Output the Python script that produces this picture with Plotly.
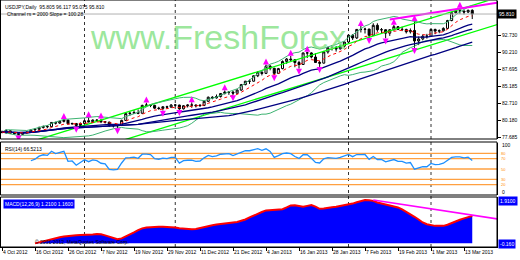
import numpy as np
import pandas as pd
import plotly.graph_objects as go

# ---------------- data ----------------
dates = pd.bdate_range("2012-10-04", "2013-03-15")
dates = dates[~dates.isin(pd.to_datetime(["2012-12-25", "2013-01-01"]))]

open_ = [78.45, 78.47, 78.68, 78.30, 78.25, 78.15, 78.40, 78.45, 78.80, 78.90,
         79.15, 79.30, 79.28, 79.90, 79.80, 80.05, 80.25, 79.70, 79.75, 79.45,
         79.75, 80.15, 80.00, 80.25, 80.20, 80.00, 79.95, 79.45, 79.40, 79.45,
         80.20, 81.20, 81.25, 81.35, 81.25, 82.40, 82.45, 82.40, 82.00, 81.95,
         82.20, 82.15, 82.45, 82.45, 81.90, 82.35, 82.45, 82.45, 82.35, 82.40,
         83.00, 83.60, 83.50, 83.70, 84.15, 84.35, 84.35, 84.20, 84.65, 85.45,
         85.95, 85.95, 86.75, 87.25, 87.10, 88.15, 87.85, 87.10, 87.80, 88.85,
         89.20, 89.10, 88.70, 88.40, 90.10, 90.10, 89.50, 88.70, 88.60, 90.25,
         90.85, 90.80, 90.70, 91.10, 91.70, 92.70, 92.30, 93.55, 93.55, 93.60,
         92.70, 94.15, 93.50, 93.50, 93.00, 93.50, 93.95, 93.55, 93.55, 93.20,
         93.40, 91.85, 92.15, 92.55, 92.55, 93.55, 93.30, 93.35, 93.70, 94.85,
         96.00, 96.25, 96.25, 96.10, 96.35]
high = [78.70, 78.90, 78.75, 78.45, 78.35, 78.50, 78.60, 78.90, 79.05, 79.30,
        79.45, 79.50, 79.95, 80.00, 80.15, 80.40, 80.30, 79.85, 79.80, 79.90,
        80.25, 80.65, 80.35, 80.40, 80.45, 80.10, 80.00, 79.55, 79.55, 80.30,
        81.35, 81.45, 81.70, 81.80, 82.50, 82.80, 82.55, 82.50, 82.20, 82.30,
        82.35, 82.60, 82.60, 82.50, 82.45, 82.55, 82.85, 82.55, 82.60, 83.15,
        83.70, 83.75, 84.00, 84.20, 84.60, 84.50, 84.50, 84.75, 85.55, 86.00,
        86.20, 86.80, 87.45, 87.55, 88.40, 88.35, 87.90, 87.90, 89.00, 89.35,
        89.65, 89.20, 88.95, 90.15, 90.25, 90.20, 90.05, 88.95, 90.40, 91.00,
        91.25, 91.10, 91.35, 91.75, 92.80, 92.85, 93.60, 94.05, 93.80, 93.65,
        94.45, 94.45, 93.75, 93.55, 93.60, 94.20, 94.05, 93.95, 93.65, 93.70,
        94.75, 92.50, 92.80, 92.90, 93.60, 93.65, 93.55, 93.85, 94.95, 96.05,
        96.55, 96.70, 96.30, 96.45, 96.50]
low = [78.30, 78.20, 78.20, 78.10, 78.00, 78.05, 78.25, 78.40, 78.70, 78.80,
       79.00, 79.05, 79.20, 79.60, 79.70, 79.90, 79.60, 79.55, 79.30, 79.40,
       79.70, 79.90, 79.95, 80.05, 79.80, 79.75, 79.25, 79.15, 79.05, 79.40,
       80.15, 80.90, 81.15, 81.10, 81.20, 82.20, 82.15, 81.90, 81.75, 81.65,
       81.95, 82.05, 82.25, 81.75, 81.80, 82.10, 82.05, 82.10, 82.20, 82.30,
       82.90, 83.30, 83.40, 83.55, 84.00, 83.95, 83.90, 84.10, 84.55, 85.35,
       85.55, 85.90, 86.55, 86.80, 87.00, 87.55, 86.85, 87.00, 87.70, 88.50,
       88.90, 88.00, 87.80, 88.35, 89.35, 89.30, 88.75, 88.05, 88.55, 90.00,
       90.45, 90.30, 90.60, 90.90, 91.55, 92.00, 92.15, 93.10, 92.95, 92.30,
       92.60, 93.20, 93.00, 92.25, 92.60, 93.40, 93.45, 93.30, 92.95, 92.95,
       90.85, 91.25, 91.95, 92.20, 92.45, 92.85, 93.00, 93.25, 93.60, 94.75,
       95.90, 95.85, 95.75, 95.95, 95.07]
close = [78.47, 78.70, 78.30, 78.25, 78.15, 78.40, 78.45, 78.80, 78.90, 79.15,
         79.30, 79.28, 79.90, 79.80, 80.05, 80.25, 79.70, 79.75, 79.45, 79.75,
         80.15, 80.00, 80.25, 80.20, 80.00, 79.95, 79.45, 79.40, 79.45, 80.20,
         81.20, 81.25, 81.35, 81.25, 82.40, 82.45, 82.40, 82.00, 81.95, 82.20,
         82.15, 82.45, 82.45, 81.90, 82.35, 82.45, 82.45, 82.35, 82.40, 83.00,
         83.60, 83.50, 83.70, 84.15, 84.35, 84.35, 84.20, 84.65, 85.45, 85.95,
         85.95, 86.75, 87.25, 87.10, 88.15, 87.85, 87.10, 87.80, 88.85, 89.20,
         89.10, 88.70, 88.40, 90.10, 90.10, 89.50, 88.70, 88.60, 90.25, 90.85,
         90.80, 90.70, 91.10, 91.70, 92.70, 92.30, 93.55, 93.55, 93.60, 92.70,
         94.15, 93.50, 93.50, 93.00, 93.50, 93.95, 93.55, 93.55, 93.20, 93.40,
         91.85, 92.15, 92.55, 92.55, 93.55, 93.30, 93.35, 93.70, 94.85, 96.00,
         96.25, 96.25, 96.10, 96.35, 95.81]

# oscillator (lower window), values from bar 8 onwards
osc_start = 8
osc_values = [0.00, 0.05, 0.10, 0.14, 0.19, 0.23, 0.27, 0.30, 0.33, 0.35,
              0.36, 0.37, 0.37, 0.38, 0.39, 0.41, 0.40, 0.35, 0.29, 0.23,
              0.18, 0.22, 0.30, 0.38, 0.48, 0.58, 0.66, 0.70, 0.72, 0.73,
              0.73, 0.73, 0.73, 0.72, 0.70, 0.67, 0.65, 0.63, 0.62, 0.63,
              0.68, 0.73, 0.77, 0.80, 0.83, 0.86, 0.88, 0.90, 0.92, 0.94,
              0.98, 1.05, 1.14, 1.23, 1.32, 1.38, 1.45, 1.47, 1.48, 1.49,
              1.50, 1.58, 1.67, 1.68, 1.64, 1.61, 1.65, 1.69, 1.62, 1.52,
              1.53, 1.57, 1.59, 1.61, 1.64, 1.67, 1.69, 1.75, 1.81, 1.86,
              1.91, 1.90, 1.87, 1.80, 1.76, 1.72, 1.69, 1.65, 1.58, 1.50,
              1.40, 1.28, 1.17, 1.05, 0.92, 0.84, 0.79, 0.77, 0.77, 0.77,
              0.82, 0.90, 0.98, 1.04, 1.10, 1.16, 1.21]

# straight channel lines (bar index, price)
channel_bars = [0, 121]
channel_upper = [75.75, 98.38]
channel_lower = [71.80, 94.43]
trend_bars = [94, 121]
trend_prices = [95.00, 97.55]
osc_trend_bars = [90, 121]
osc_trend_vals = [1.91, 1.05]

price_ticks = [92.730, 90.210, 87.695, 85.185, 82.710, 80.180, 77.685]
rsi_levels = [80, 70, 50, 30, 20]
bid = 95.810

# ---------------- derived ----------------
N = len(close)
x = np.arange(N)
c = pd.Series(close)


def ema(s, n):
    return s.ewm(span=n, adjust=False).mean()


ma_fast = ema(c, 21)
ma_mid = c.rolling(34, min_periods=1).mean()
ma_slow = c.rolling(55, min_periods=1).mean()
bb_mid = c.rolling(20, min_periods=1).mean()
bb_sd = c.rolling(20, min_periods=1).std(ddof=0).fillna(0)
bb_up = bb_mid + 2 * bb_sd
bb_dn = bb_mid - 2 * bb_sd
red_ma = ema(c, 8)

d = c.diff()
au = d.clip(lower=0).ewm(alpha=1 / 14, adjust=True, min_periods=7).mean()
ad = (-d).clip(lower=0).ewm(alpha=1 / 14, adjust=True, min_periods=7).mean()
rsi = 100 - 100 / (1 + au / ad)

H = np.array(high)
L = np.array(low)
up_fr, dn_fr = [], []
for i in range(2, N - 2):
    if H[i] > max(H[i - 2], H[i - 1], H[i + 1], H[i + 2]):
        up_fr.append(i)
    if L[i] < min(L[i - 2], L[i - 1], L[i + 1], L[i + 2]):
        dn_fr.append(i)

tick_idx = list(range(0, N, 8))
tick_txt = [f"{dates[i].day} {dates[i].strftime('%b %Y')}" for i in tick_idx]
month_starts = [i for i in range(1, N) if dates[i].month != dates[i - 1].month and dates[i].month != 1]

# ---------------- layout geometry ----------------
W, Hh = 520, 260
XR = [-0.485, 120.0]
plot_w = 497 / W


def py(p):  # pixel row -> paper y
    return 1 - p / Hh


main_dom = [py(139), py(1)]
rsi_dom = [py(195), py(143)]
osc_dom = [py(247), py(197)]

fig = go.Figure()

fig.add_annotation(text="www.FreshForex", x=218 / W, y=py(37), xref="paper", yref="paper",
                   showarrow=False, font=dict(family="Liberation Sans, Arial", size=34,
                                              color="rgba(130,225,130,0.8)"),
                   xanchor="center", yanchor="middle")

for vals in (channel_upper, channel_lower):
    fig.add_trace(go.Scatter(x=channel_bars, y=vals, mode="lines",
                             line=dict(color="#00FF00", width=1.3), hoverinfo="skip"))
for s in (bb_up, bb_dn):
    fig.add_trace(go.Scatter(x=x, y=s, mode="lines", line=dict(color="#3CB371", width=1),
                             hoverinfo="skip"))
for s in (ma_fast, ma_mid, ma_slow):
    fig.add_trace(go.Scatter(x=x, y=s, mode="lines", line=dict(color="#000080", width=1.3),
                             hoverinfo="skip"))
fig.add_trace(go.Scatter(x=x, y=red_ma, mode="lines",
                         line=dict(color="#FF0000", width=1, dash="dot"), hoverinfo="skip"))
fig.add_trace(go.Scatter(x=trend_bars, y=trend_prices, mode="lines",
                         line=dict(color="#FF00FF", width=2), hoverinfo="skip"))
fig.add_trace(go.Scatter(x=[XR[0], XR[1]], y=[bid, bid], mode="lines",
                         line=dict(color="#B0B0B0", width=1), hoverinfo="skip"))
fig.add_trace(go.Candlestick(x=x, open=open_, high=high, low=low, close=close,
                             increasing=dict(line=dict(color="#000000", width=1), fillcolor="#FFFFFF"),
                             decreasing=dict(line=dict(color="#000000", width=1), fillcolor="#000000"),
                             whiskerwidth=0, hoverinfo="skip"))
fig.add_trace(go.Scatter(x=up_fr, y=[H[i] + 0.9 for i in up_fr], mode="markers",
                         marker=dict(symbol="arrow-up", size=6, color="#FF00FF"), hoverinfo="skip"))
fig.add_trace(go.Scatter(x=dn_fr, y=[L[i] - 0.9 for i in dn_fr], mode="markers",
                         marker=dict(symbol="arrow-down", size=6, color="#FF00FF"), hoverinfo="skip"))

for lv in rsi_levels:
    fig.add_trace(go.Scatter(x=[XR[0], XR[1]], y=[lv, lv], yaxis="y2", mode="lines",
                             line=dict(color="#FFA040", width=1.3), hoverinfo="skip"))
fig.add_trace(go.Scatter(x=x, y=rsi, yaxis="y2", mode="lines",
                         line=dict(color="#1E90FF", width=1.3), hoverinfo="skip"))

ox = np.arange(osc_start, osc_start + len(osc_values))
fig.add_trace(go.Scatter(x=ox, y=osc_values, yaxis="y3", mode="lines", fill="tozeroy",
                         fillcolor="#0000FF", line=dict(color="#FF0000", width=2), hoverinfo="skip"))
fig.add_trace(go.Scatter(x=osc_trend_bars, y=osc_trend_vals, yaxis="y3", mode="lines",
                         line=dict(color="#FF00FF", width=1.5), hoverinfo="skip"))

shapes = []
for m in month_starts:
    shapes.append(dict(type="line", xref="x", yref="paper", x0=m, x1=m, y0=py(247), y1=1,
                       line=dict(color="#333333", width=1, dash="dot"), layer="below"))
for top, bot in ((0, 139), (142, 195), (197, 247)):
    shapes.append(dict(type="rect", xref="paper", yref="paper", x0=0.5 / W, x1=497 / W,
                       y0=py(bot), y1=py(top), line=dict(color="#000000", width=1)))

small = dict(family="Liberation Sans Narrow, Liberation Sans, Arial", size=5, color="#000000")
ann = []
ann.append(dict(text="USDJPY,Daily  95.805 96.117 95.075 95.810", x=3 / W, y=py(2),
                xanchor="left", yanchor="top", font=small))
ann.append(dict(text="Channel rs = 2000 Slope = 100.28", x=5 / W, y=py(9),
                xanchor="left", yanchor="top", font=small))
ann.append(dict(text=f"{bid:.3f}", x=497 / W, y=bid, yref="y", xanchor="left", yanchor="middle",
                bgcolor="#000000", font=dict(family=small["family"], size=5, color="#FFFFFF")))
ann.append(dict(text=f"RSI(14) {rsi.iloc[-1]:.4f}", x=3 / W, y=py(144), xanchor="left",
                yanchor="top", font=small))
ann.append(dict(text="100", x=500 / W, y=py(145), xanchor="left", yanchor="middle", font=small))
ann.append(dict(text="0", x=500 / W, y=py(192), xanchor="left", yanchor="middle", font=small))
for lv in rsi_levels:
    ann.append(dict(text=str(lv), x=499 / W, y=lv, yref="y2", xanchor="left", yanchor="middle",
                    font=dict(family=small["family"], size=4, color="#FF8C00")))
ann.append(dict(text=f"MACD(12,26,9) {osc_values[-1]:.4f} {osc_values[-2]:.4f}", x=3 / W, y=py(199),
                xanchor="left", yanchor="top", bgcolor="#0000FF",
                font=dict(family=small["family"], size=5, color="#FFFFFF")))
ann.append(dict(text=f"{max(osc_values):.4f}", x=498 / W, y=py(201), xanchor="left", yanchor="middle",
                bgcolor="#0000FF", font=dict(family=small["family"], size=5, color="#FFFFFF")))
ann.append(dict(text="-0.160", x=498 / W, y=py(244), xanchor="left", yanchor="middle",
                bgcolor="#0000FF", font=dict(family=small["family"], size=5, color="#FFFFFF")))
ann.append(dict(text="\u00a9 2001-2012, MetaQuotes Software Corp.", x=33 / W, y=py(247),
                xanchor="left", yanchor="bottom", font=small))
for a in ann:
    a.setdefault("xref", "paper")
    a.setdefault("yref", "paper")
    a["showarrow"] = False
    fig.add_annotation(**a)

ax_common = dict(showgrid=False, zeroline=False, side="right", ticks="outside", ticklen=3,
                 tickcolor="#000000", showline=True, linecolor="#000000",
                 anchor="x", fixedrange=True)
fig.update_layout(
    width=W, height=Hh, margin=dict(l=0, r=0, t=0, b=0),
    paper_bgcolor="#FFFFFF", plot_bgcolor="#FFFFFF", showlegend=False,
    xaxis=dict(domain=[0, plot_w], range=XR, anchor="y3", showgrid=False, zeroline=False,
               tickvals=tick_idx, ticktext=tick_txt, ticks="outside", ticklen=3, tickangle=0,
               tickcolor="#000000", tickfont=small, ticklabelposition="outside right",
               rangeslider=dict(visible=False), showline=True, linecolor="#000000"),
    yaxis=dict(domain=main_dom, range=[77.47, 97.72], tickvals=price_ticks,
               ticktext=[f"{v:.3f}" for v in price_ticks], tickfont=small, **ax_common),
    yaxis2=dict(domain=rsi_dom, range=[0, 100], tickvals=[], **ax_common),
    yaxis3=dict(domain=osc_dom, range=[-0.16, 2.04], tickvals=[], **ax_common),
    shapes=shapes,
)
fig.write_html("out.html")
